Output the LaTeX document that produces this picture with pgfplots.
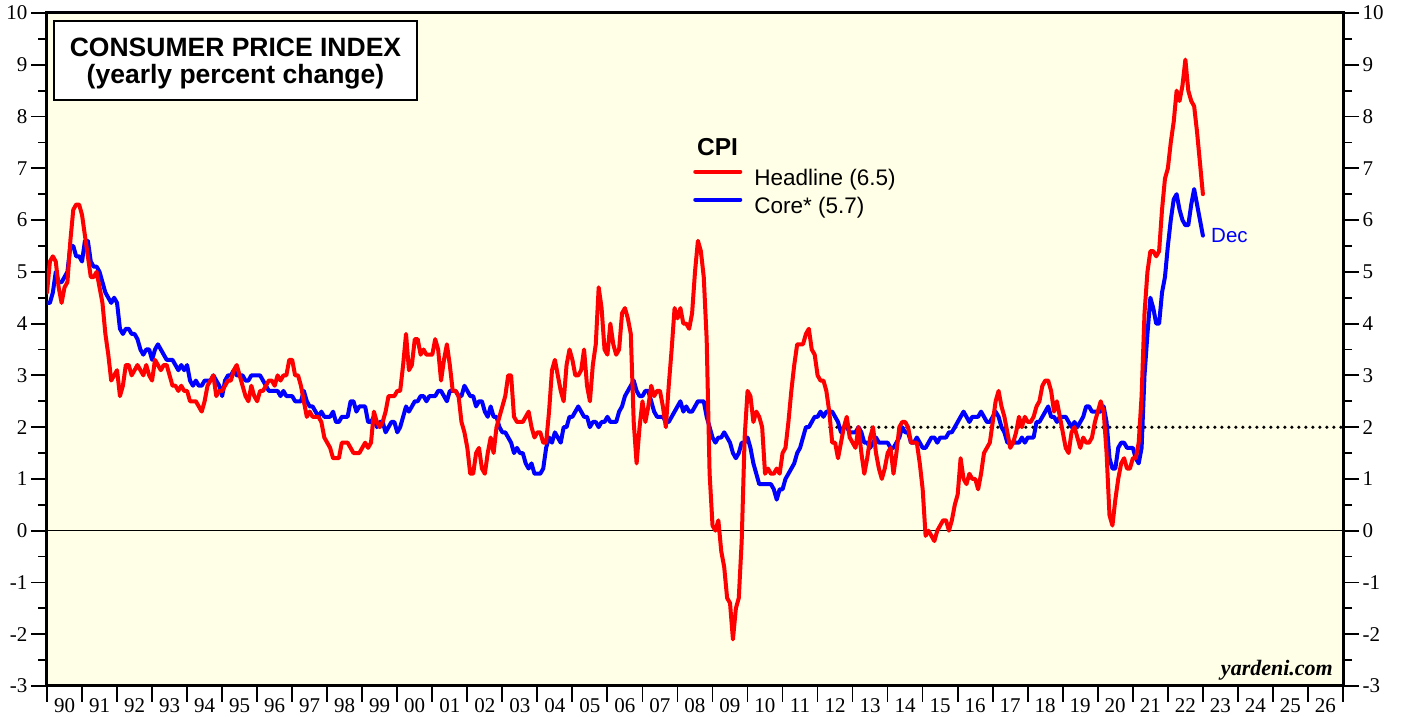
\documentclass[border=0pt]{standalone}
\usepackage{fontspec}
\setmainfont{Liberation Serif}
\newfontfamily\arial{Liberation Sans}
\usepackage{pgfplots}
\pgfplotsset{compat=1.18}
\usepackage{pgfplotstable}
\definecolor{bgc}{RGB}{255,254,230}

% monthly yearly % change, x = year + month/12 (Dec plotted at next year .000)
\pgfplotstableread[row sep=\\]{
x h c\\
1990.000 4.6 4.4\\
1990.083 5.2 4.4\\ 1990.167 5.3 4.6\\ 1990.250 5.2 5.0\\ 1990.333 4.7 4.8\\ 1990.417 4.4 4.8\\ 1990.500 4.7 4.9\\ 1990.583 4.8 5.0\\ 1990.667 5.6 5.5\\ 1990.750 6.2 5.5\\ 1990.833 6.3 5.3\\ 1990.917 6.3 5.3\\ 1991.000 6.1 5.2\\
1991.083 5.7 5.6\\ 1991.167 5.3 5.6\\ 1991.250 4.9 5.2\\ 1991.333 4.9 5.1\\ 1991.417 5.0 5.1\\ 1991.500 4.7 5.0\\ 1991.583 4.4 4.8\\ 1991.667 3.8 4.6\\ 1991.750 3.4 4.5\\ 1991.833 2.9 4.4\\ 1991.917 3.0 4.5\\ 1992.000 3.1 4.4\\
1992.083 2.6 3.9\\ 1992.167 2.8 3.8\\ 1992.250 3.2 3.9\\ 1992.333 3.2 3.9\\ 1992.417 3.0 3.8\\ 1992.500 3.1 3.8\\ 1992.583 3.2 3.7\\ 1992.667 3.1 3.5\\ 1992.750 3.0 3.4\\ 1992.833 3.2 3.5\\ 1992.917 3.0 3.5\\ 1993.000 2.9 3.3\\
1993.083 3.3 3.5\\ 1993.167 3.2 3.6\\ 1993.250 3.1 3.5\\ 1993.333 3.2 3.4\\ 1993.417 3.2 3.3\\ 1993.500 3.0 3.3\\ 1993.583 2.8 3.3\\ 1993.667 2.8 3.2\\ 1993.750 2.7 3.1\\ 1993.833 2.8 3.2\\ 1993.917 2.7 3.1\\ 1994.000 2.7 3.2\\
1994.083 2.5 2.9\\ 1994.167 2.5 2.8\\ 1994.250 2.5 2.9\\ 1994.333 2.4 2.8\\ 1994.417 2.3 2.8\\ 1994.500 2.5 2.9\\ 1994.583 2.8 2.9\\ 1994.667 2.9 2.9\\ 1994.750 3.0 3.0\\ 1994.833 2.6 2.9\\ 1994.917 2.7 2.8\\ 1995.000 2.7 2.6\\
1995.083 2.8 2.9\\ 1995.167 2.9 3.0\\ 1995.250 2.9 3.0\\ 1995.333 3.1 3.1\\ 1995.417 3.2 3.0\\ 1995.500 3.0 3.0\\ 1995.583 2.8 3.0\\ 1995.667 2.6 2.9\\ 1995.750 2.5 2.9\\ 1995.833 2.8 3.0\\ 1995.917 2.6 3.0\\ 1996.000 2.5 3.0\\
1996.083 2.7 3.0\\ 1996.167 2.7 2.9\\ 1996.250 2.8 2.8\\ 1996.333 2.9 2.7\\ 1996.417 2.9 2.7\\ 1996.500 2.8 2.7\\ 1996.583 3.0 2.7\\ 1996.667 2.9 2.6\\ 1996.750 3.0 2.7\\ 1996.833 3.0 2.6\\ 1996.917 3.3 2.6\\ 1997.000 3.3 2.6\\
1997.083 3.0 2.5\\ 1997.167 3.0 2.5\\ 1997.250 2.8 2.5\\ 1997.333 2.5 2.7\\ 1997.417 2.2 2.5\\ 1997.500 2.3 2.4\\ 1997.583 2.2 2.4\\ 1997.667 2.2 2.3\\ 1997.750 2.2 2.2\\ 1997.833 2.1 2.3\\ 1997.917 1.8 2.2\\ 1998.000 1.7 2.2\\
1998.083 1.6 2.2\\ 1998.167 1.4 2.3\\ 1998.250 1.4 2.1\\ 1998.333 1.4 2.1\\ 1998.417 1.7 2.2\\ 1998.500 1.7 2.2\\ 1998.583 1.7 2.2\\ 1998.667 1.6 2.5\\ 1998.750 1.5 2.5\\ 1998.833 1.5 2.3\\ 1998.917 1.5 2.4\\ 1999.000 1.6 2.4\\
1999.083 1.7 2.4\\ 1999.167 1.6 2.1\\ 1999.250 1.7 2.1\\ 1999.333 2.3 2.2\\ 1999.417 2.1 2.0\\ 1999.500 2.0 2.1\\ 1999.583 2.1 2.1\\ 1999.667 2.3 1.9\\ 1999.750 2.6 2.0\\ 1999.833 2.6 2.1\\ 1999.917 2.6 2.1\\ 2000.000 2.7 1.9\\
2000.083 2.7 2.0\\ 2000.167 3.2 2.2\\ 2000.250 3.8 2.4\\ 2000.333 3.1 2.3\\ 2000.417 3.2 2.4\\ 2000.500 3.7 2.5\\ 2000.583 3.7 2.5\\ 2000.667 3.4 2.6\\ 2000.750 3.5 2.6\\ 2000.833 3.4 2.5\\ 2000.917 3.4 2.6\\ 2001.000 3.4 2.6\\
2001.083 3.7 2.6\\ 2001.167 3.5 2.7\\ 2001.250 2.9 2.7\\ 2001.333 3.3 2.6\\ 2001.417 3.6 2.5\\ 2001.500 3.2 2.7\\ 2001.583 2.7 2.7\\ 2001.667 2.7 2.7\\ 2001.750 2.6 2.6\\ 2001.833 2.1 2.6\\ 2001.917 1.9 2.8\\ 2002.000 1.6 2.7\\
2002.083 1.1 2.6\\ 2002.167 1.1 2.6\\ 2002.250 1.5 2.4\\ 2002.333 1.6 2.5\\ 2002.417 1.2 2.5\\ 2002.500 1.1 2.3\\ 2002.583 1.5 2.2\\ 2002.667 1.8 2.4\\ 2002.750 1.5 2.2\\ 2002.833 2.0 2.2\\ 2002.917 2.2 2.0\\ 2003.000 2.4 1.9\\
2003.083 2.6 1.9\\ 2003.167 3.0 1.8\\ 2003.250 3.0 1.7\\ 2003.333 2.2 1.5\\ 2003.417 2.1 1.6\\ 2003.500 2.1 1.5\\ 2003.583 2.1 1.5\\ 2003.667 2.2 1.3\\ 2003.750 2.3 1.2\\ 2003.833 2.0 1.3\\ 2003.917 1.8 1.1\\ 2004.000 1.9 1.1\\
2004.083 1.9 1.1\\ 2004.167 1.7 1.2\\ 2004.250 1.7 1.6\\ 2004.333 2.3 1.8\\ 2004.417 3.1 1.7\\ 2004.500 3.3 1.9\\ 2004.583 3.0 1.8\\ 2004.667 2.7 1.7\\ 2004.750 2.5 2.0\\ 2004.833 3.2 2.0\\ 2004.917 3.5 2.2\\ 2005.000 3.3 2.2\\
2005.083 3.0 2.3\\ 2005.167 3.0 2.4\\ 2005.250 3.1 2.3\\ 2005.333 3.5 2.2\\ 2005.417 2.8 2.2\\ 2005.500 2.5 2.0\\ 2005.583 3.2 2.1\\ 2005.667 3.6 2.1\\ 2005.750 4.7 2.0\\ 2005.833 4.3 2.1\\ 2005.917 3.5 2.1\\ 2006.000 3.4 2.2\\
2006.083 4.0 2.1\\ 2006.167 3.6 2.1\\ 2006.250 3.4 2.1\\ 2006.333 3.5 2.3\\ 2006.417 4.2 2.4\\ 2006.500 4.3 2.6\\ 2006.583 4.1 2.7\\ 2006.667 3.8 2.8\\ 2006.750 2.1 2.9\\ 2006.833 1.3 2.7\\ 2006.917 2.0 2.6\\ 2007.000 2.5 2.6\\
2007.083 2.1 2.7\\ 2007.167 2.4 2.7\\ 2007.250 2.8 2.5\\ 2007.333 2.6 2.3\\ 2007.417 2.7 2.2\\ 2007.500 2.7 2.2\\ 2007.583 2.4 2.2\\ 2007.667 2.0 2.1\\ 2007.750 2.8 2.1\\ 2007.833 3.5 2.2\\ 2007.917 4.3 2.3\\ 2008.000 4.1 2.4\\
2008.083 4.3 2.5\\ 2008.167 4.0 2.3\\ 2008.250 4.0 2.4\\ 2008.333 3.9 2.3\\ 2008.417 4.2 2.3\\ 2008.500 5.0 2.4\\ 2008.583 5.6 2.5\\ 2008.667 5.4 2.5\\ 2008.750 4.9 2.5\\ 2008.833 3.7 2.2\\ 2008.917 1.1 2.0\\ 2009.000 0.1 1.8\\
2009.083 0.0 1.7\\ 2009.167 0.2 1.8\\ 2009.250 -0.4 1.8\\ 2009.333 -0.7 1.9\\ 2009.417 -1.3 1.8\\ 2009.500 -1.4 1.7\\ 2009.583 -2.1 1.5\\ 2009.667 -1.5 1.4\\ 2009.750 -1.3 1.5\\ 2009.833 -0.2 1.7\\ 2009.917 1.8 1.7\\ 2010.000 2.7 1.8\\
2010.083 2.6 1.6\\ 2010.167 2.1 1.3\\ 2010.250 2.3 1.1\\ 2010.333 2.2 0.9\\ 2010.417 2.0 0.9\\ 2010.500 1.1 0.9\\ 2010.583 1.2 0.9\\ 2010.667 1.1 0.9\\ 2010.750 1.1 0.8\\ 2010.833 1.2 0.6\\ 2010.917 1.1 0.8\\ 2011.000 1.5 0.8\\
2011.083 1.6 1.0\\ 2011.167 2.1 1.1\\ 2011.250 2.7 1.2\\ 2011.333 3.2 1.3\\ 2011.417 3.6 1.5\\ 2011.500 3.6 1.6\\ 2011.583 3.6 1.8\\ 2011.667 3.8 2.0\\ 2011.750 3.9 2.0\\ 2011.833 3.5 2.1\\ 2011.917 3.4 2.2\\ 2012.000 3.0 2.2\\
2012.083 2.9 2.3\\ 2012.167 2.9 2.2\\ 2012.250 2.7 2.3\\ 2012.333 2.3 2.3\\ 2012.417 1.7 2.3\\ 2012.500 1.7 2.2\\ 2012.583 1.4 2.1\\ 2012.667 1.7 1.9\\ 2012.750 2.0 2.0\\ 2012.833 2.2 2.0\\ 2012.917 1.8 1.9\\ 2013.000 1.7 1.9\\
2013.083 1.6 1.9\\ 2013.167 2.0 2.0\\ 2013.250 1.5 1.9\\ 2013.333 1.1 1.7\\ 2013.417 1.4 1.7\\ 2013.500 1.8 1.6\\ 2013.583 2.0 1.7\\ 2013.667 1.5 1.8\\ 2013.750 1.2 1.7\\ 2013.833 1.0 1.7\\ 2013.917 1.2 1.7\\ 2014.000 1.5 1.7\\
2014.083 1.6 1.6\\ 2014.167 1.1 1.6\\ 2014.250 1.5 1.7\\ 2014.333 2.0 1.8\\ 2014.417 2.1 2.0\\ 2014.500 2.1 1.9\\ 2014.583 2.0 1.9\\ 2014.667 1.7 1.7\\ 2014.750 1.7 1.7\\ 2014.833 1.7 1.8\\ 2014.917 1.3 1.7\\ 2015.000 0.8 1.6\\
2015.083 -0.1 1.6\\ 2015.167 0.0 1.7\\ 2015.250 -0.1 1.8\\ 2015.333 -0.2 1.8\\ 2015.417 0.0 1.7\\ 2015.500 0.1 1.8\\ 2015.583 0.2 1.8\\ 2015.667 0.2 1.8\\ 2015.750 0.0 1.9\\ 2015.833 0.2 1.9\\ 2015.917 0.5 2.0\\ 2016.000 0.7 2.1\\
2016.083 1.4 2.2\\ 2016.167 1.0 2.3\\ 2016.250 0.9 2.2\\ 2016.333 1.1 2.1\\ 2016.417 1.0 2.2\\ 2016.500 1.0 2.2\\ 2016.583 0.8 2.2\\ 2016.667 1.1 2.3\\ 2016.750 1.5 2.2\\ 2016.833 1.6 2.1\\ 2016.917 1.7 2.1\\ 2017.000 2.1 2.2\\
2017.083 2.5 2.3\\ 2017.167 2.7 2.2\\ 2017.250 2.4 2.0\\ 2017.333 2.2 1.9\\ 2017.417 1.9 1.7\\ 2017.500 1.6 1.7\\ 2017.583 1.7 1.7\\ 2017.667 1.9 1.7\\ 2017.750 2.2 1.7\\ 2017.833 2.0 1.8\\ 2017.917 2.2 1.7\\ 2018.000 2.1 1.8\\
2018.083 2.1 1.8\\ 2018.167 2.2 1.8\\ 2018.250 2.4 2.1\\ 2018.333 2.5 2.1\\ 2018.417 2.8 2.2\\ 2018.500 2.9 2.3\\ 2018.583 2.9 2.4\\ 2018.667 2.7 2.2\\ 2018.750 2.3 2.2\\ 2018.833 2.5 2.1\\ 2018.917 2.2 2.2\\ 2019.000 1.9 2.2\\
2019.083 1.6 2.2\\ 2019.167 1.5 2.1\\ 2019.250 1.9 2.0\\ 2019.333 2.0 2.1\\ 2019.417 1.8 2.0\\ 2019.500 1.6 2.1\\ 2019.583 1.8 2.2\\ 2019.667 1.7 2.4\\ 2019.750 1.7 2.4\\ 2019.833 1.8 2.3\\ 2019.917 2.1 2.3\\ 2020.000 2.3 2.3\\
2020.083 2.5 2.3\\ 2020.167 2.3 2.4\\ 2020.250 1.5 2.1\\ 2020.333 0.3 1.4\\ 2020.417 0.1 1.2\\ 2020.500 0.6 1.2\\ 2020.583 1.0 1.6\\ 2020.667 1.3 1.7\\ 2020.750 1.4 1.7\\ 2020.833 1.2 1.6\\ 2020.917 1.2 1.6\\ 2021.000 1.4 1.6\\
2021.083 1.4 1.4\\ 2021.167 1.7 1.3\\ 2021.250 2.6 1.6\\ 2021.333 4.2 3.0\\ 2021.417 5.0 3.8\\ 2021.500 5.4 4.5\\ 2021.583 5.4 4.3\\ 2021.667 5.3 4.0\\ 2021.750 5.4 4.0\\ 2021.833 6.2 4.6\\ 2021.917 6.8 4.9\\ 2022.000 7.0 5.5\\
2022.083 7.5 6.0\\ 2022.167 7.9 6.4\\ 2022.250 8.5 6.5\\ 2022.333 8.3 6.2\\ 2022.417 8.6 6.0\\ 2022.500 9.1 5.9\\ 2022.583 8.5 5.9\\ 2022.667 8.3 6.3\\ 2022.750 8.2 6.6\\ 2022.833 7.7 6.3\\ 2022.917 7.1 6.0\\ 2023.000 6.5 5.7\\
}\cpi

\pgfplotsset{
  cpiaxis/.style={
    at={(0pt,0pt)}, anchor=south west,
    width=1296pt, height=673pt, scale only axis,
    xmin=1990, xmax=2027, ymin=-3, ymax=10,
    axis line style={line width=3pt},
    ytick={-3,...,10}, minor y tick num=1,
    tick align=outside,
    major tick length=16pt, minor tick length=9pt,
    tick style={black, line width=1.8pt},
    /pgf/number format/assume math mode=true,
    ticklabel style={font=\fontsize{21}{21}\selectfont},
  }
}

\begin{document}
\begin{tikzpicture}
\begin{axis}[cpiaxis,
  axis background/.style={fill=bgc},
  xtick={1990,...,2027},
  xticklabels={90,91,92,93,94,95,96,97,98,99,00,01,02,03,04,05,06,07,08,09,10,11,12,13,14,15,16,17,18,19,20,21,22,23,24,25,26},
  x tick label as interval,
  xticklabel style={yshift=7pt},
  xtick pos=left, ytick pos=left,
  legend style={at={(0.4985,0.7697)}, anchor=north west, draw=none, fill=none,
    inner sep=0pt, row sep=6pt, font=\arial\fontsize{22.5}{22.5}\selectfont,
    nodes={inner sep=0pt, text height=17pt, text depth=5pt}},
  legend cell align=left,
  legend image code/.code={\draw[#1] (0pt,7.5pt) -- (45pt,7.5pt); \path[draw=none] (0pt,0pt) (59pt,0pt);},
]
\addlegendimage{red, line width=4pt, line cap=round}
\addlegendentry{Headline (6.5)}
\addlegendimage{blue, line width=4pt, line cap=round}
\addlegendentry{Core* (5.7)}
\addplot[black, line width=1.5pt, forget plot] coordinates {(1990,0) (2027,0)};
\addplot[black, line width=3.5pt, line cap=round, dash pattern=on 0pt off 7pt, forget plot] coordinates {(2012.35,2) (2027,2)};
\addplot[blue, line width=4pt, line join=round, line cap=round, forget plot] table[x=x, y=c] {\cpi};
\addplot[red, line width=4pt, line join=round, line cap=round, forget plot] table[x=x, y=h] {\cpi};
\end{axis}
\begin{axis}[cpiaxis, hide x axis, axis y line*=right]
\end{axis}

\node[draw=black, line width=2pt, fill=white, minimum width=363pt, minimum height=79pt, inner sep=0pt]
  at (188.5pt,625.5pt) {};
\node[inner sep=0pt, align=center, font=\arial\bfseries\fontsize{26.5}{27}\selectfont]
  at (188.5pt,622.5pt) {CONSUMER PRICE INDEX\\(yearly percent change)};
\node[anchor=base west, inner sep=0pt, font=\arial\bfseries\fontsize{24.5}{24.5}\selectfont]
  at (650pt,530pt) {CPI};
\node[anchor=base west, inner sep=0pt, text=blue, font=\arial\fontsize{20.5}{20.5}\selectfont]
  at (1164pt,443pt) {Dec};
\node[anchor=base east, inner sep=0pt, font=\fontsize{22}{22}\selectfont\bfseries\itshape]
  at (1286pt,10pt) {yardeni.com};

\pgfresetboundingbox
\useasboundingbox (-47pt,-31pt) rectangle (1356pt,686pt);
\end{tikzpicture}
\end{document}
